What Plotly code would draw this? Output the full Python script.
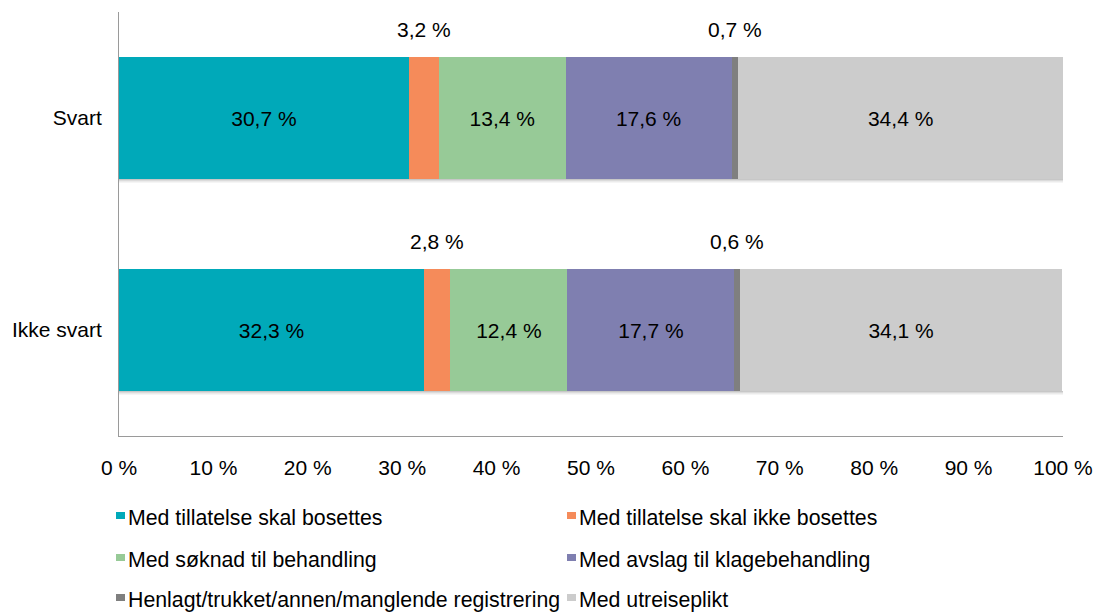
import plotly.graph_objects as go

categories = ["Svart", "Ikke svart"]
series_names = [
    "Med tillatelse skal bosettes",
    "Med tillatelse skal ikke bosettes",
    "Med søknad til behandling",
    "Med avslag til klagebehandling",
    "Henlagt/trukket/annen/manglende registrering",
    "Med utreiseplikt",
]
series_values = [
    [30.7, 32.3],
    [3.2, 2.8],
    [13.4, 12.4],
    [17.6, 17.7],
    [0.7, 0.6],
    [34.4, 34.1],
]
colors = ["#00A9B9", "#F58B5A", "#97CA97", "#7F7FB0", "#7F7F7F", "#CCCCCC"]
tick_vals = list(range(0, 101, 10))
tick_labels = [f"{v} %" for v in tick_vals]

FONT = "Liberation Sans, Arial, Helvetica, sans-serif"
FS = 21
W, H = 1094, 613
L, R, T, B = 119, 31, 12, 177
PW, PH = W - L - R, H - T - B
BARGAP = 0.425


def fmt(v):
    return f"{v:.1f} %".replace(".", ",")


def px_x(x):
    return (x - L) / PW


def px_y(y):
    return (H - B - y) / PH


fig = go.Figure()

# soft shadow under each bar
half_bar = PH / len(categories) * (1 - BARGAP) / 2
for i in range(len(categories)):
    for k, op in enumerate([0.22, 0.14, 0.08, 0.04]):
        fig.add_shape(type="rect", xref="x", yref="y", ysizemode="pixel", yanchor=i,
                      x0=0, x1=100, y0=-half_bar - k, y1=-half_bar - k - 1,
                      fillcolor=f"rgba(0,0,0,{op})", line=dict(width=0), layer="below")

for name, vals, col in zip(series_names, series_values, colors):
    fig.add_trace(go.Bar(
        y=categories, x=vals, name=name, orientation="h",
        marker=dict(color=col, line=dict(width=0)),
        text=[fmt(v) if v >= 5 else "" for v in vals],
        textposition="inside", insidetextanchor="middle", textangle=0,
        textfont=dict(size=FS, color="#000000", family=FONT),
        constraintext="none", showlegend=False, hoverinfo="x+name",
    ))

# small segment labels above the bars
for i, cat in enumerate(categories):
    cum = 0.0
    for vals in series_values:
        v = vals[i]
        if v < 5:
            fig.add_annotation(x=cum + v / 2, y=cat, text=fmt(v), showarrow=False,
                               yshift=89, font=dict(size=FS, color="#000000", family=FONT))
        cum += v

# legend, two columns
leg_x = [116, 567]
leg_y = [518, 560, 600]
for k, (name, col) in enumerate(zip(series_names, colors)):
    lx = leg_x[k % 2]
    ly = leg_y[k // 2]
    fig.add_shape(type="rect", xref="paper", yref="paper",
                  x0=px_x(lx), x1=px_x(lx + 9), y0=px_y(ly + 1), y1=px_y(ly - 6),
                  fillcolor=col, line=dict(width=0))
    fig.add_annotation(xref="paper", yref="paper", x=px_x(lx + 10), y=px_y(ly),
                       xanchor="left", yanchor="middle", text=name, showarrow=False,
                       font=dict(size=21.3, color="#000000", family=FONT))

fig.update_layout(
    barmode="stack",
    bargap=BARGAP,
    width=W, height=H,
    autosize=False,
    margin=dict(l=L, r=R, t=T, b=B, pad=0, autoexpand=False),
    plot_bgcolor="white", paper_bgcolor="white",
    font=dict(family=FONT, size=FS, color="#000000"),
    xaxis=dict(range=[0, 100], tickvals=tick_vals, ticktext=tick_labels,
               showgrid=False, zeroline=False, showline=True, linecolor="#9A9A9A",
               linewidth=1, ticks="outside", ticklen=13, tickcolor="rgba(0,0,0,0)",
               automargin=False),
    yaxis=dict(autorange="reversed", showgrid=False, zeroline=False, showline=True,
               linecolor="#9A9A9A", linewidth=1, ticks="outside", ticklen=12,
               tickcolor="rgba(0,0,0,0)", automargin=False),
    showlegend=False,
)

fig.write_html("out.html", config={"displayModeBar": False},
               post_script="document.body.style.margin='0';")
